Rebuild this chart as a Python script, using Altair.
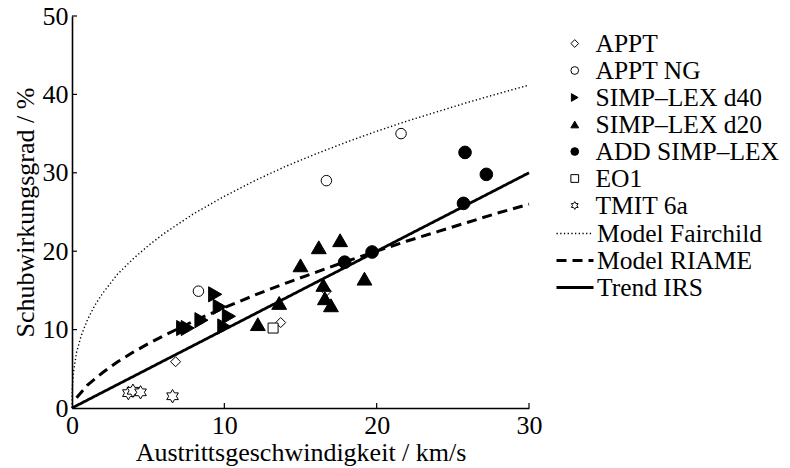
import altair as alt
import pandas as pd

FONT = "Liberation Serif"
FS = 26
LFS = 25.5

# ---------------- data ----------------
series_names = ["APPT", "APPT NG", "SIMP–LEX d40", "SIMP–LEX d20",
                "ADD SIMP–LEX", "EO1", "TMIT 6a"]

appt_x = [6.8, 13.7, 16.7]
appt_y = [5.9, 10.9, 14.9]
apptng_x = [8.3, 16.7, 21.6]
apptng_y = [14.9, 29.0, 35.0]
d40_x = [7.3, 7.6, 8.5, 9.4, 9.7, 10.3, 10.0]
d40_y = [10.2, 10.2, 11.2, 14.5, 12.9, 11.7, 10.4]
d20_x = [12.2, 13.6, 15.0, 16.2, 17.6, 16.5, 16.6, 17.0, 19.2]
d20_y = [10.7, 13.4, 18.2, 20.5, 21.4, 15.7, 14.0, 13.1, 16.5]
add_x = [17.9, 19.7, 25.7, 25.8, 27.2]
add_y = [18.6, 19.9, 26.1, 32.6, 29.8]
eo1_x = [13.2]
eo1_y = [10.2]
tmit_x = [3.7, 4.0, 4.5, 6.6]
tmit_y = [1.9, 2.2, 2.0, 1.5]

line_names = ["Model Fairchild", "Model RIAME", "Trend IRS"]
fair_x = [0, 0.02, 0.1, 0.3, 0.6, 1, 1.5, 2, 3, 4, 5, 6, 8, 10, 12, 14, 16,
          18, 20, 22, 24, 26, 28, 30]
fair_y = [0, 2.6, 4.6, 7.1, 9.2, 11.2, 13.1, 14.6, 17.1, 19.0, 20.7, 22.2,
          24.8, 27.0, 29.0, 30.8, 32.4, 33.9, 35.3, 36.6, 37.8, 39.0, 40.1, 41.2]
riame_x = [0.3, 1, 2, 3, 4, 5, 6, 8, 10, 12, 14, 16, 18, 20, 22, 24, 26, 28, 30]
riame_y = [1.3, 2.9, 4.5, 5.9, 7.1, 8.2, 9.2, 11.1, 12.8, 14.4, 15.9, 17.3,
           18.7, 20.0, 21.3, 22.5, 23.7, 24.9, 26.0]
trend_x = [0, 30]
trend_y = [0, 30]

x_ticks = [0, 10, 20, 30]
y_ticks = [0, 10, 20, 30, 40, 50]

# ---------------- tables ----------------
pts = []
for name, xs, ys in zip(series_names,
                        [appt_x, apptng_x, d40_x, d20_x, add_x, eo1_x, tmit_x],
                        [appt_y, apptng_y, d40_y, d20_y, add_y, eo1_y, tmit_y]):
    for a, b in zip(xs, ys):
        pts.append({"series": name, "kind": name, "x": a, "y": b})
pts = pd.DataFrame(pts)

lns = []
for name, xs, ys in zip(line_names, [fair_x, riame_x, trend_x],
                        [fair_y, riame_y, trend_y]):
    for i, (a, b) in enumerate(zip(xs, ys)):
        lns.append({"line": name, "x": a, "y": b, "i": i})
lns = pd.DataFrame(lns)

W, H = 457, 392

star = ("M0,-1L0.289,-0.5L0.866,-0.5L0.577,0L0.866,0.5L0.289,0.5L0,1"
        "L-0.289,0.5L-0.866,0.5L-0.577,0L-0.866,-0.5L-0.289,-0.5Z")

xs = alt.Scale(domain=[0, 30], nice=False, zero=False)
ys = alt.Scale(domain=[0, 50], nice=False, zero=False)

x_axis = alt.Axis(values=x_ticks, title="Austrittsgeschwindigkeit / km/s",
                  labelFlush=False, grid=False, ticks=False, labelPadding=4,
                  titlePadding=1)
y_axis = alt.Axis(values=y_ticks, title="Schubwirkungsgrad / %",
                  labelFlush=False, grid=False, ticks=False, labelPadding=4,
                  titlePadding=4)

pt_legend = alt.Legend(
    orient="none", legendX=490, legendY=14, title=None,
    symbolSize=60, symbolStrokeColor="black", symbolStrokeWidth=1,
    symbolFillColor=alt.ExprRef(expr="scale('fill', datum.value)"),
    symbolOpacity=1,
    labelOffset=8, rowPadding=0, clipHeight=27, padding=0, labelFont=FONT,
    labelFontSize=LFS, labelColor="black", labelLimit=0,
)

ln_legend = alt.Legend(orient="none", legendX=483, legendY=204, title=None,
                       symbolType="stroke", symbolSize=1369,
                       symbolStrokeColor="black", labelOffset=2,
                       rowPadding=0, clipHeight=27, padding=0,
                       labelFont=FONT, labelFontSize=LFS, labelColor="black",
                       labelLimit=0)

lines = alt.Chart(lns).mark_line(color="black").encode(
    x=alt.X("x:Q", scale=xs, axis=x_axis),
    y=alt.Y("y:Q", scale=ys, axis=y_axis),
    strokeDash=alt.StrokeDash("line:N", scale=alt.Scale(
        domain=line_names, range=[[1.3, 2.4], [10, 6], [1, 0]]), legend=ln_legend),
    strokeWidth=alt.StrokeWidth("line:N", scale=alt.Scale(
        type="ordinal", domain=line_names, range=[1.4, 3, 2.8]), legend=ln_legend),
    order="i:Q",
)

points = alt.Chart(pts).mark_point(filled=True, stroke="black",
                                   strokeWidth=1, opacity=1).encode(
    x=alt.X("x:Q", scale=xs),
    y=alt.Y("y:Q", scale=ys),
    shape=alt.Shape("series:N", scale=alt.Scale(
        domain=series_names,
        range=["diamond", "circle", "triangle-right", "triangle-up",
               "circle", "square", star]), legend=pt_legend),
    fill=alt.Fill("kind:N", scale=alt.Scale(
        domain=series_names,
        range=["white", "white", "black", "black", "black", "white", "white"]),
        legend=None),
    size=alt.Size("kind:N", scale=alt.Scale(
        type="ordinal", domain=series_names,
        range=[100, 110, 230, 220, 160, 100, 180]),
        legend=None),
)

tick_x = alt.Chart(pd.DataFrame({"x": x_ticks[1:]})).mark_rule(
    color="black", strokeWidth=1.2).encode(
    x=alt.X("x:Q", scale=xs), y=alt.value(H), y2=alt.value(H - 5))
tick_y = alt.Chart(pd.DataFrame({"y": y_ticks[1:]})).mark_rule(
    color="black", strokeWidth=1.2).encode(
    y=alt.Y("y:Q", scale=ys), x=alt.value(0), x2=alt.value(5))

chart = alt.layer(lines, points, tick_x, tick_y).resolve_legend(
    shape="independent"
).properties(
    width=W, height=H,
    autosize=alt.AutoSizeParams(type="none"),
    padding={"left": 64, "top": 8, "right": 253, "bottom": 58},
    background="white",
).configure_view(stroke=None).configure_axis(
    domainColor="black", domainWidth=1.6,
    labelFont=FONT, labelFontSize=FS, labelColor="black",
    titleFont=FONT, titleFontSize=FS, titleColor="black",
    titleFontWeight="normal",
)

chart.save("out.html", embed_options={"renderer": "svg", "actions": False})
